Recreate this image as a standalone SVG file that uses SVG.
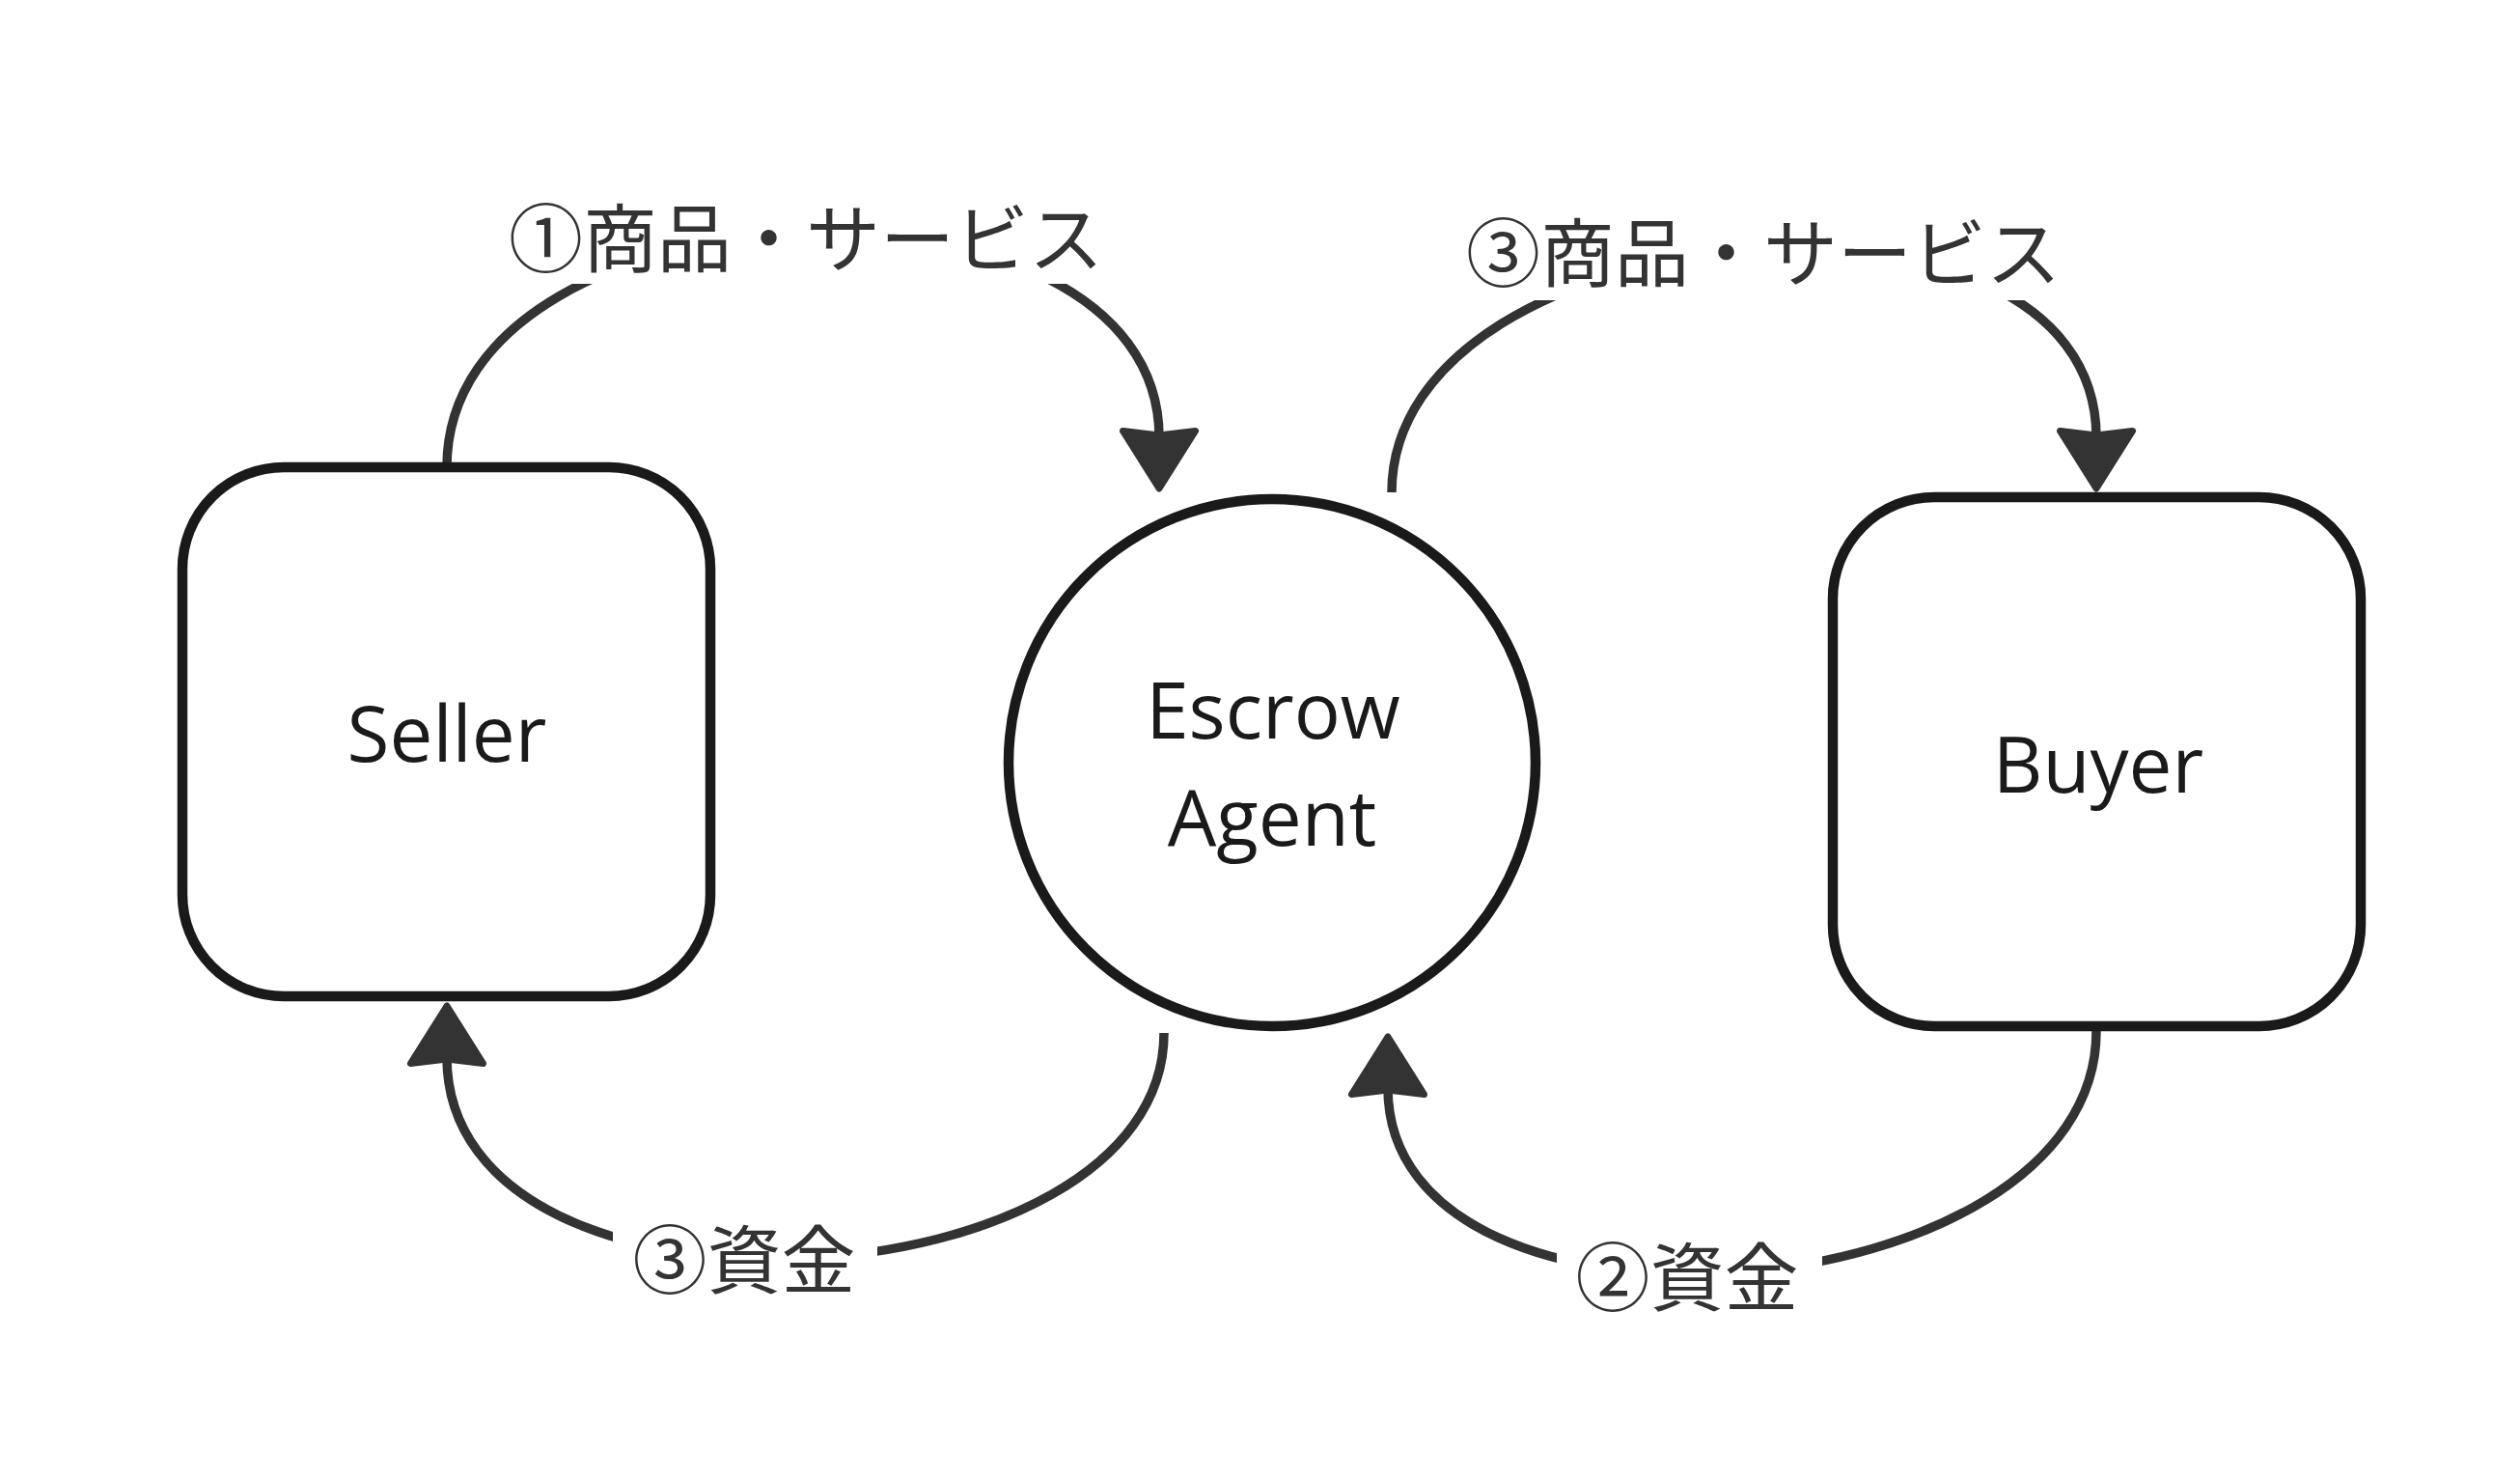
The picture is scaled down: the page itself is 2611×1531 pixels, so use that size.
<svg xmlns="http://www.w3.org/2000/svg" width="2611" height="1531" viewBox="0 0 2611 1531">
<style>
.node{fill:#fff;stroke:#1a1a1a;stroke-width:10.5}
.nt{font-family:"Open Sans","Noto Sans",sans-serif;font-size:80px;fill:#1a1a1a;text-anchor:middle}
.edge{fill:none;stroke:#333;stroke-width:9.5;marker-end:url(#arrow)}
.lbg{fill:#fff}
.lt{font-family:"Noto Sans CJK JP","Noto Sans CJK SC",sans-serif;font-size:77px;fill:#333;text-anchor:middle}
</style>
<defs>
<marker id="arrow" markerUnits="userSpaceOnUse" orient="auto" refX="0" refY="0" markerWidth="140" markerHeight="140" viewBox="-70 -70 140 140" overflow="visible">
<path d="M53,0 L-6.5,-37.5 L-2,0 L-6.5,37.5 Z" fill="#333" stroke="#333" stroke-width="7" stroke-linejoin="round"/>
</marker>
</defs>
<rect width="2611" height="1531" fill="#fff"/>
<g id="connectors">
<path class="edge" d="M463,484 C463,176 1201,155 1201,453"/>
<path class="edge" d="M1442,510 C1442,216 2172,154 2172,453"/>
<path class="edge" d="M1206,1070 C1206,1356 463,1398 463,1095"/>
<path class="edge" d="M2172,1068 C2172,1364 1438,1418 1438,1127"/>
<rect class="lbg" x="506" y="196" width="658" height="98"/>
<rect class="lbg" x="1499" y="212" width="657" height="99"/>
<rect class="lbg" x="635" y="1255" width="274" height="97"/>
<rect class="lbg" x="1613" y="1273" width="275" height="97"/>
<text class="lt" x="835" y="276">①商品・サービス</text>
<text class="lt" x="1827" y="291">③商品・サービス</text>
<text class="lt" x="771" y="1334">③資金</text>
<text class="lt" x="1748" y="1352">②資金</text>
</g>
<g id="seller">
<rect class="node" x="189" y="484" width="547" height="548" rx="105" ry="105"/>
<text class="nt" x="463" y="789">Seller</text>
</g>
<g id="escrow">
<circle class="node" cx="1318" cy="790" r="273"/>
<text class="nt" x="1319" y="765">Escrow</text>
<text class="nt" x="1318" y="876">Agent</text>
</g>
<g id="buyer">
<rect class="node" x="1899" y="515" width="547" height="548" rx="105" ry="105"/>
<text class="nt" x="2174" y="821">Buyer</text>
</g>
</svg>
